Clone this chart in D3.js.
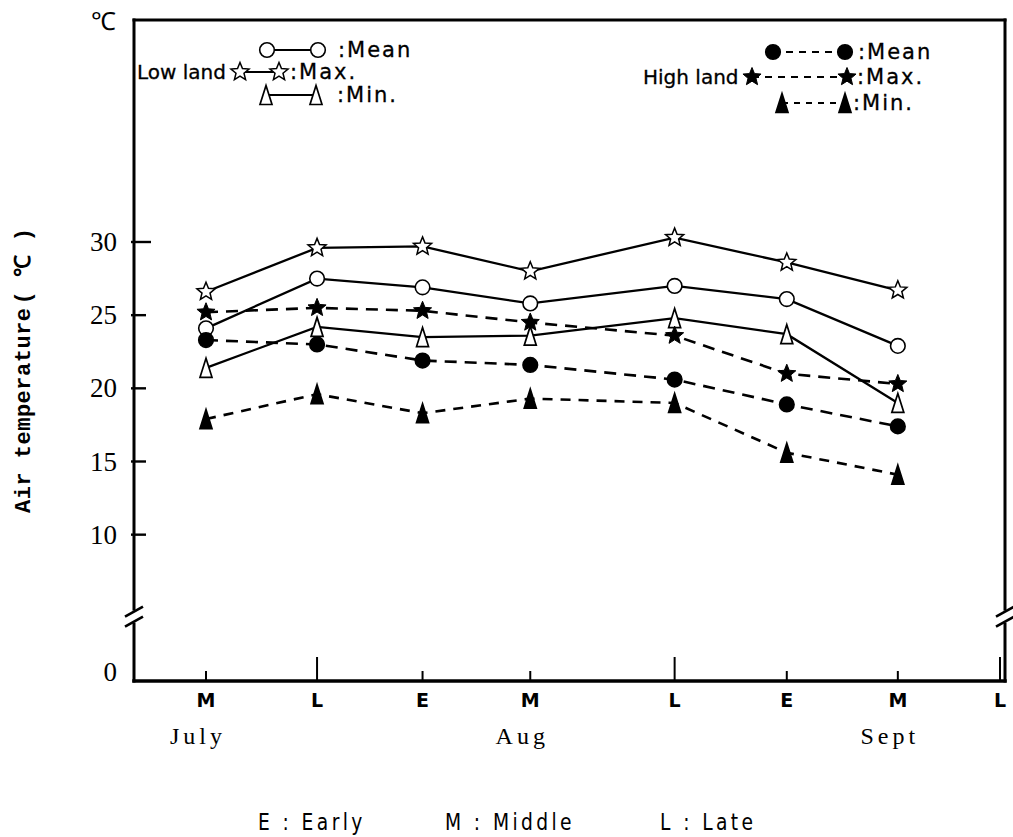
<!DOCTYPE html>
<html><head><meta charset="utf-8">
<script src="https://cdn.jsdelivr.net/npm/d3@7"></script>
<style>body{margin:0;background:#fff}</style>
</head><body>
<script>
// ---- data ----
const periodLabels = ["M","L","E","M","L","E","M","L"];
const periodPos    = [0, 1, 1.95, 2.92, 4.22, 5.23, 6.23, 7.15];
const periodMajor  = [false,true,false,false,true,false,false,true];
const monthLabels  = ["July","Aug","Sept"];
const monthAt      = [0, 3, 6];
const yTickValues  = [0,10,15,20,25,30];
const lowMean  = [24.1, 27.5, 26.9, 25.8, 27.0, 26.1, 22.9];
const lowMax   = [26.6, 29.6, 29.7, 28.0, 30.3, 28.6, 26.7];
const lowMin   = [21.4, 24.2, 23.5, 23.6, 24.8, 23.7, 19.0];
const highMean = [23.3, 23.0, 21.9, 21.6, 20.6, 18.9, 17.4];
const highMax  = [25.2, 25.5, 25.3, 24.5, 23.6, 21.0, 20.3];
const highMin  = [17.9, 19.6, 18.3, 19.3, 19.0, 15.6, 14.1];
const noteLabels = ["E : Early","M : Middle","L : Late"];

// ---- setup ----
const W = 1013, H = 837;
const frame = {left:134, right:1005, top:20};
const svg = d3.select("body").append("svg").attr("width",W).attr("height",H)
  .style("background","#fff");
const x = d3.scaleLinear().domain([0, 7.15]).range([206, 1000]);
const y = d3.scaleLinear().domain([0, 30]).range([681, 242]);
const y0 = y(0);

function starPath(R, r){
  const p=[]; for(let i=0;i<10;i++){const a=-Math.PI/2+i*Math.PI/5;const rr=i%2?r:R;p.push([rr*Math.cos(a),rr*Math.sin(a)]);}
  return "M"+p.map(d=>d[0].toFixed(2)+","+d[1].toFixed(2)).join("L")+"Z";
}
function triPath(w,h){ return `M0,${-h/2}L${w/2},${h/2}L${-w/2},${h/2}Z`; }
function drawMarker(g, shape, filled, cx, cy){
  const fill = filled ? "#000" : "#fff";
  if(shape==="circle") g.append("circle").attr("cx",cx).attr("cy",cy).attr("r",7.3)
      .attr("fill",fill).attr("stroke","#000").attr("stroke-width",1.6);
  else if(shape==="star") g.append("path").attr("d",starPath(9.5,4.2)).attr("transform",`translate(${cx},${cy})`)
      .attr("fill",fill).attr("stroke","#000").attr("stroke-width",filled?1:1.5).attr("stroke-linejoin","miter");
  else g.append("path").attr("d",triPath(12,19)).attr("transform",`translate(${cx},${cy})`)
      .attr("fill",fill).attr("stroke","#000").attr("stroke-width",1.7);
}

// ---- frame ----
const fr = svg.append("g").attr("stroke","#000").attr("fill","none").attr("stroke-linecap","square");
fr.append("line").attr("x1",frame.left).attr("x2",frame.right).attr("y1",frame.top).attr("y2",frame.top).attr("stroke-width",3);
fr.append("line").attr("x1",frame.left).attr("x2",frame.left).attr("y1",frame.top).attr("y2",y0).attr("stroke-width",3);
fr.append("line").attr("x1",frame.right).attr("x2",frame.right).attr("y1",frame.top).attr("y2",y0).attr("stroke-width",3);
fr.append("line").attr("x1",frame.left).attr("x2",frame.right).attr("y1",y0).attr("y2",y0).attr("stroke-width",3.5);

// axis breaks
function axisBreak(cx, cy){
  svg.append("rect").attr("x",cx-5).attr("y",cy-6).attr("width",10).attr("height",12).attr("fill","#fff");
  [-5,5].forEach(o=>svg.append("line").attr("x1",cx-9).attr("y1",cy+o+5).attr("x2",cx+9).attr("y2",cy+o-5)
     .attr("stroke","#000").attr("stroke-width",2.6));
}
axisBreak(frame.left, y(4.4));
axisBreak(frame.right, y(4.4));

// y ticks
const yt = svg.append("g");
yTickValues.forEach(v=>{
  if(v>0) yt.append("line").attr("x1",frame.left-3).attr("x2",frame.left+(v===30?17:12))
     .attr("y1",y(v)).attr("y2",y(v)).attr("stroke","#000").attr("stroke-width",2.4);
  yt.append("text").attr("x",117).attr("y",y(v)+(v===0?-9:0)).attr("text-anchor","end")
    .attr("dominant-baseline","central").attr("font-family","Liberation Serif, serif")
    .attr("font-size",27).text(v);
});

// x ticks
const xt = svg.append("g");
periodPos.forEach((p,i)=>{
  xt.append("line").attr("x1",x(p)).attr("x2",x(p)).attr("y1",y0).attr("y2",y0-(periodMajor[i]?24:10))
    .attr("stroke","#000").attr("stroke-width",2);
  xt.append("text").attr("x",x(p)).attr("y",700).attr("text-anchor","middle").attr("dominant-baseline","central")
    .attr("font-family","DejaVu Sans, sans-serif").attr("font-weight","bold").attr("font-size",19)
    .attr("transform",`translate(${x(p)},700) scale(1,1.05) translate(${-x(p)},-700)`).text(periodLabels[i]);
});
monthLabels.forEach((m,i)=>{
  svg.append("text").attr("x",x(periodPos[monthAt[i]])-8).attr("y",736).attr("text-anchor","middle")
    .attr("dominant-baseline","central").attr("font-family","Liberation Serif, serif").attr("font-size",24)
    .attr("letter-spacing",4).text(m);
});

// units / axis title
svg.append("text").attr("x",103).attr("y",21).attr("text-anchor","middle").attr("dominant-baseline","central")
  .attr("font-family","Liberation Serif, serif").attr("font-size",25).text("℃");
const yl = svg.append("text").attr("transform","translate(24,513) rotate(-90)")
  .attr("dominant-baseline","central").attr("font-family","Liberation Mono, DejaVu Sans Mono, monospace")
  .attr("font-weight","bold").attr("font-size",22);
yl.append("tspan").attr("letter-spacing",0.5).text("Air temperature");
yl.append("tspan").attr("dx",3).attr("letter-spacing",14).text("(℃)");

// ---- series ----
const series = [
  {values:lowMax,  shape:"star",   filled:false, dash:null},
  {values:lowMean, shape:"circle", filled:false, dash:null},
  {values:highMean,shape:"circle", filled:true,  dash:"12,8"},
  {values:lowMin,  shape:"tri",    filled:false, dash:null},
  {values:highMax, shape:"star",   filled:true,  dash:"12,8"},
  {values:highMin, shape:"tri",    filled:true,  dash:"10,8"}
];
const line = d3.line().x((d,i)=>x(periodPos[i])).y(d=>y(d));
const lg = svg.append("g");
series.forEach(s=>{
  lg.append("path").attr("d",line(s.values)).attr("fill","none").attr("stroke","#000")
    .attr("stroke-width",s.dash?2.6:2.3).attr("stroke-dasharray",s.dash);
});
const mg = svg.append("g");
series.forEach(s=>s.values.forEach((v,i)=>drawMarker(mg,s.shape,s.filled,x(periodPos[i]),y(v))));

// ---- legend ----
function legText(tx,ty,t,size,ls){
  return svg.append("text").attr("x",tx).attr("y",ty).attr("dominant-baseline","central")
    .attr("font-family","DejaVu Sans, sans-serif").attr("font-size",size).attr("letter-spacing",ls)
    .attr("stroke","#000").attr("stroke-width",0.3).text(t);
}
const legendRows = [
  {x1:267,x2:318,y:50,shape:"circle",filled:false,dash:null,label:":Mean",lx:338},
  {x1:240,x2:279,y:72,shape:"star",filled:false,dash:null,label:":Max.",lx:290},
  {x1:266,x2:316,y:95,shape:"tri",filled:false,dash:null,label:":Min.",lx:337},
  {x1:773,x2:845,y:52,shape:"circle",filled:true,dash:"7,6",label:":Mean",lx:858},
  {x1:752,x2:847,y:77,shape:"star",filled:true,dash:"7,6",label:":Max.",lx:857},
  {x1:782,x2:845,y:103,shape:"tri",filled:true,dash:"6,6",label:":Min.",lx:853}
];
legendRows.forEach(r=>{
  svg.append("line").attr("x1",r.x1).attr("x2",r.x2).attr("y1",r.y).attr("y2",r.y)
    .attr("stroke","#000").attr("stroke-width",2).attr("stroke-dasharray",r.dash);
  drawMarker(svg,r.shape,r.filled,r.x1,r.y);
  drawMarker(svg,r.shape,r.filled,r.x2,r.y);
  legText(r.lx,r.y,r.label,21,2);
});
legText(137,72,"Low land",20,0);
legText(643,77,"High land",20,0);

// ---- bottom note ----
const noteX = [258, 445, 660];
noteLabels.forEach((t,i)=>{
  svg.append("text").attr("x",noteX[i]).attr("y",822).attr("dominant-baseline","central")
    .attr("font-family","DejaVu Sans, sans-serif").attr("font-size",22).attr("letter-spacing",4)
    .attr("transform",`translate(${noteX[i]},822) scale(0.85,1.05) translate(${-noteX[i]},-822)`)
    .text(t);
});
</script>
</body></html>
